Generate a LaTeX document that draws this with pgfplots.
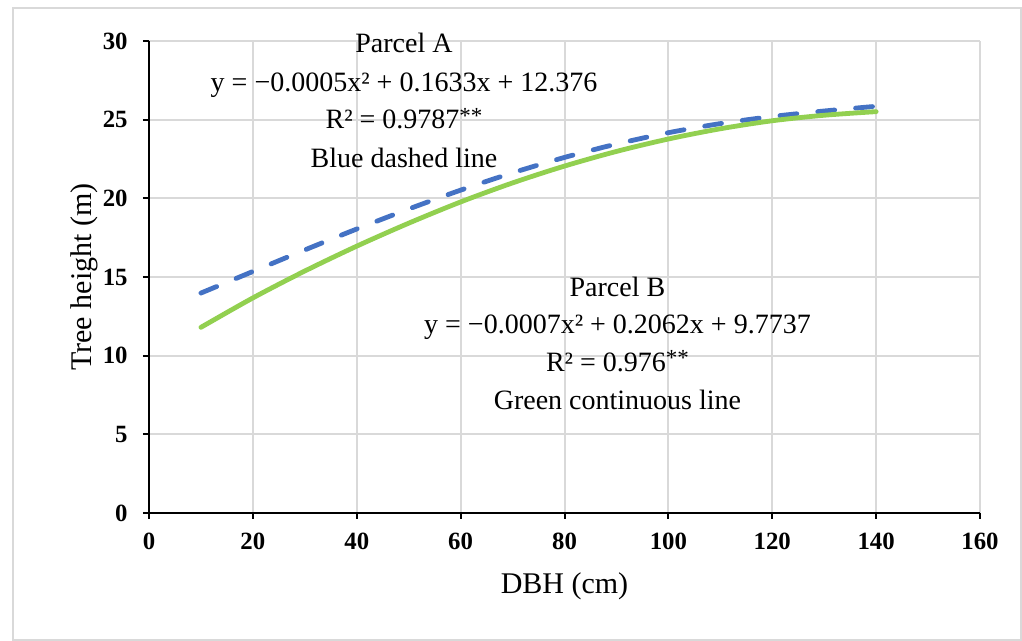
\documentclass[border=0pt]{standalone}
\usepackage{fontspec}
\setmainfont{Liberation Serif}
\usepackage{pgfplots}
\pgfplotsset{compat=1.18}
\definecolor{blueA}{RGB}{68,114,196}
\definecolor{greenB}{RGB}{146,208,80}
\definecolor{gridgray}{RGB}{217,217,217}
\newcommand{\stars}{\raisebox{0.45ex}{\fontsize{11.5}{11.5}\selectfont **}}

\begin{document}
\begin{tikzpicture}
\begin{axis}[name=ax,
  scale only axis, width=415.5pt, height=236pt,
  xmin=0, xmax=160, ymin=0, ymax=30,
  xtick={0,20,...,160}, ytick={0,5,...,30},
  axis x line=bottom, axis y line=left,
  axis line style={-, line width=1pt, black},
  tick align=outside, major tick length=3pt,
  tick style={black, line width=1pt},
  grid=major, major grid style={gridgray, line width=1pt},
  ticklabel style={font=\fontsize{12.4}{14}\selectfont\bfseries},
  /pgf/number format/assume math mode=true,
  yticklabel style={anchor=east, inner sep=0pt, xshift=-7.5pt},
  xticklabel style={anchor=north, inner sep=0pt, yshift=-7pt},
  xlabel={DBH (cm)}, ylabel={Tree height (m)},
  every axis x label/.style={at={(axis description cs:0.5,-0.1695)}, anchor=base, font=\fontsize{15}{18}\selectfont},
  every axis y label/.style={at={(axis description cs:-0.0686,0.5)}, rotate=90, anchor=base, font=\fontsize{15}{18}\selectfont},
  clip=false]

% Parcel A (blue dashed)
\addplot[blueA, line width=2.4pt, line cap=round, dash pattern=on 8.5pt off 10.5pt, smooth] coordinates {
  (10,13.98) (20,15.35) (30,16.72) (40,18.05) (50,19.32) (60,20.52) (70,21.62)
  (80,22.60) (90,23.45) (100,24.17) (110,24.75) (120,25.20) (130,25.55) (140,25.85)
};
% Parcel B (green continuous)
\addplot[greenB, line width=2.4pt, line cap=round, smooth] coordinates {
  (10,11.80) (20,13.67) (30,15.38) (40,16.96) (50,18.42) (60,19.77) (70,20.98)
  (80,22.05) (90,22.98) (100,23.77) (110,24.42) (120,24.93) (130,25.28) (140,25.51)
};

\begin{scope}[font=\fontsize{14}{17}\selectfont]
\node[anchor=base] at (axis cs:49.1,29.24) {Parcel A};
\node[anchor=base] at (axis cs:49.1,26.82) {y = −0.0005x² + 0.1633x + 12.376};
\node[anchor=base] at (axis cs:49.1,24.41) {R² = 0.9787\stars};
\node[anchor=base] at (axis cs:49.1,21.99) {Blue dashed line};
\node[anchor=base] at (axis cs:90.2,13.75) {Parcel B};
\node[anchor=base] at (axis cs:90.2,11.44) {y = −0.0007x² + 0.2062x + 9.7737};
\node[anchor=base] at (axis cs:90.2,8.98) {R² = 0.976\stars};
\node[anchor=base] at (axis cs:90.2,6.55) {Green continuous line};
\end{scope}
\end{axis}
\draw[gridgray, line width=1pt] ([shift={(-68pt,-63.5pt)}]ax.south west) rectangle ([shift={(436pt,252.5pt)}]ax.south west);
\useasboundingbox ([shift={(-74.5pt,-64pt)}]ax.south west) rectangle ([shift={(436.5pt,256.5pt)}]ax.south west);
\end{tikzpicture}
\end{document}
